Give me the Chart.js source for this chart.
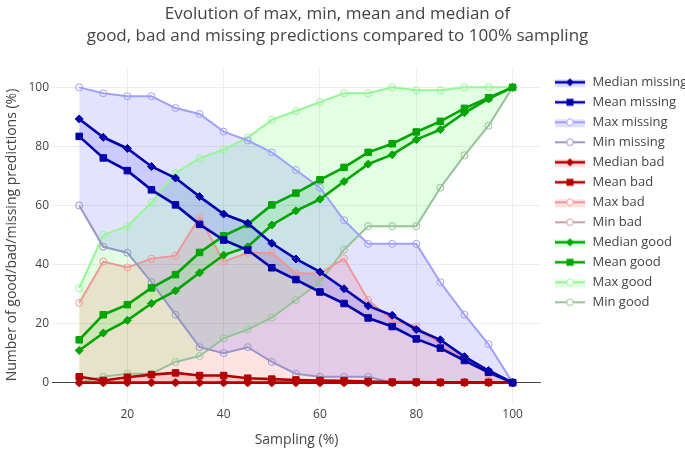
<!DOCTYPE html>
<html>
<head>
<meta charset="utf-8">
<script src="https://cdn.jsdelivr.net/npm/chart.js@4/dist/chart.umd.min.js"></script>
<style>
  html, body { margin: 0; padding: 0; background: #fff; }
  #wrap { width: 685px; height: 452px; position: relative; }
</style>
</head>
<body>
<div id="wrap"><canvas id="c"></canvas></div>
<script>
// ---- Data ----
const sampling = [10, 15, 20, 25, 30, 35, 40, 45, 50, 55, 60, 65, 70, 75, 80, 85, 90, 95, 100];

const medianMissing = [89.3, 83.1, 79.3, 73.2, 69.3, 63.0, 57.1, 54.0, 47.2, 41.9, 37.5, 31.8, 26.0, 22.8, 18.0, 14.5, 8.8, 4.1, 0];
const meanMissing   = [83.4, 76.1, 71.8, 65.3, 60.2, 53.6, 48.3, 44.9, 38.9, 34.9, 30.7, 26.8, 21.9, 19.0, 14.8, 11.7, 7.5, 3.5, 0];
const maxMissing    = [100, 98, 97, 97, 93, 91, 85, 82, 78, 72, 66, 55, 47, 47, 47, 34, 23, 13, 0];
const minMissing    = [60, 46, 44, 34, 23, 12, 10, 12, 7, 3, 2, 2, 2, 0, 0, 0, 0, 0, 0];

const medianBad = [0, 0, 0, 0, 0, 0, 0, 0, 0, 0, 0, 0, 0, 0, 0, 0, 0, 0, 0];
const meanBad   = [2.0, 0.7, 1.8, 2.7, 3.3, 2.4, 2.4, 1.5, 1.2, 0.9, 0.7, 0.6, 0.4, 0.2, 0.2, 0.1, 0.1, 0.1, 0];
const maxBad    = [27, 41, 39, 42, 43, 56, 41, 44, 44, 37, 37, 42, 28, 21, 19, 13, 8, 3, 0];
const minBad    = [0, 0, 0, 0, 0, 0, 0, 0, 0, 0, 0, 0, 0, 0, 0, 0, 0, 0, 0];

const medianGood = [10.9, 16.8, 21.1, 26.8, 31.1, 37.2, 43.2, 46.0, 53.4, 58.2, 62.1, 68.1, 74.0, 77.2, 82.3, 85.7, 91.4, 96.1, 100];
const meanGood   = [14.5, 23.0, 26.4, 32.1, 36.6, 44.1, 49.7, 53.6, 60.2, 64.2, 68.7, 72.9, 78.0, 80.9, 84.9, 88.5, 92.9, 96.5, 100];
const maxGood    = [32, 50, 53, 61, 71, 76, 79, 83, 89, 92, 95, 98, 98, 100, 99, 99, 100, 100, 100];
const minGood    = [0, 2, 3, 3, 7, 9, 15, 18, 22, 28, 34, 45, 53, 53, 53, 66, 77, 87, 100];

const yTicks = [0, 20, 40, 60, 80, 100];
const xTicks = [20, 40, 60, 80, 100];

const titleLines = ['Evolution of max, min, mean and median of', 'good, bad and missing predictions compared to 100% sampling'];
const xTitle = 'Sampling (%)';
const yTitle = 'Number of good/bad/missing predictions (%)';

// ---- Styles ----
const C = {
  missing: { dark: 'rgb(0,0,170)', max: 'rgb(160,160,250)', min: 'rgb(150,150,200)', fill: 'rgba(0,0,255,0.11)', swatch: 'rgba(0,0,255,0.12)' },
  bad:     { dark: 'rgb(180,0,0)', max: 'rgb(240,150,150)', min: 'rgb(200,160,160)', fill: 'rgba(255,0,0,0.11)', swatch: 'rgba(255,0,0,0.12)' },
  good:    { dark: 'rgb(0,165,0)', max: 'rgb(150,245,150)', min: 'rgb(150,195,150)', fill: 'rgba(0,255,0,0.11)', swatch: 'rgba(0,255,0,0.12)' }
};

function pts(arr) { return arr.map((v, i) => ({ x: sampling[i], y: v })); }

function makeIcon(color, lw, marker, swatch) {
  const cv = document.createElement('canvas');
  cv.width = 38; cv.height = 16;
  const g = cv.getContext('2d');
  const cy = 8, x0 = 7, x1 = 37, cx = 22;
  if (swatch) { g.fillStyle = swatch; g.fillRect(x0, cy - 3, x1 - x0, 8); }
  g.strokeStyle = color; g.lineWidth = lw;
  g.beginPath(); g.moveTo(x0, cy); g.lineTo(x1, cy); g.stroke();
  g.lineWidth = 1;
  if (marker === 'diamond') {
    g.fillStyle = color; g.beginPath();
    g.moveTo(cx, cy - 4); g.lineTo(cx + 4, cy); g.lineTo(cx, cy + 4); g.lineTo(cx - 4, cy); g.closePath(); g.fill();
  } else if (marker === 'square') {
    g.fillStyle = color; g.fillRect(cx - 3.5, cy - 3.5, 7, 7);
  } else {
    g.fillStyle = '#fff'; g.beginPath(); g.arc(cx, cy, 3.3, 0, Math.PI * 2); g.fill(); g.stroke();
  }
  return cv;
}

const datasets = [];
const legendIcons = [];
[['missing', medianMissing, meanMissing, maxMissing, minMissing],
 ['bad', medianBad, meanBad, maxBad, minBad],
 ['good', medianGood, meanGood, maxGood, minGood]].forEach(([name, med, mean, mx, mn]) => {
  const c = C[name];
  datasets.push({ label: 'Median ' + name, data: pts(med), borderColor: c.dark, backgroundColor: c.fill,
    borderWidth: 2.6, pointStyle: 'rectRot', pointRadius: 4, pointBorderWidth: 1,
    pointBackgroundColor: c.dark, pointBorderColor: c.dark, fill: false, order: 0 });
  legendIcons.push(makeIcon(c.dark, 2.6, 'diamond', c.swatch));
  datasets.push({ label: 'Mean ' + name, data: pts(mean), borderColor: c.dark, backgroundColor: c.fill,
    borderWidth: 2.6, pointStyle: 'rect', pointRadius: 4.6, pointBorderWidth: 1,
    pointBackgroundColor: c.dark, pointBorderColor: c.dark, fill: '-1', order: 0 });
  legendIcons.push(makeIcon(c.dark, 2.6, 'square', null));
  datasets.push({ label: 'Max ' + name, data: pts(mx), borderColor: c.max, backgroundColor: c.fill,
    borderWidth: 2, pointStyle: 'circle', pointRadius: 3.5, pointBorderWidth: 1,
    pointBackgroundColor: 'rgba(0,0,0,0)', pointBorderColor: c.max, fill: false, order: 1 });
  legendIcons.push(makeIcon(c.max, 2, 'circle', c.swatch));
  datasets.push({ label: 'Min ' + name, data: pts(mn), borderColor: c.min, backgroundColor: c.fill,
    borderWidth: 2, pointStyle: 'circle', pointRadius: 3.5, pointBorderWidth: 1,
    pointBackgroundColor: 'rgba(0,0,0,0)', pointBorderColor: c.min, fill: '-1', order: 1 });
  legendIcons.push(makeIcon(c.min, 2, 'circle', null));
});
datasets.forEach((d) => { d.tension = 0; });

Chart.defaults.font.family = "'Open Sans', 'Noto Sans', sans-serif";
Chart.defaults.color = '#444';

const gridColor = (ctx) => (ctx.tick && ctx.tick.value === 0 ? '#444' : '#eee');

new Chart(document.getElementById('c'), {
  type: 'line',
  data: { datasets },
  options: {
    responsive: true,
    maintainAspectRatio: false,
    animation: false,
    events: [],
    layout: { padding: { left: -10, right: 0, top: 0, bottom: 0 } },
    plugins: {
      filler: { drawTime: 'beforeDatasetsDraw' },
      title: {
        display: true, text: titleLines, color: '#444',
        font: { size: 17, weight: 'normal', lineHeight: '22px' },
        padding: { top: 3, bottom: 20 }
      },
      legend: {
        display: true, position: 'right', align: 'start', fullSize: false, maxWidth: 144,
        title: { display: true, text: '', padding: 0, font: { size: 1, lineHeight: 1.8 } },
        labels: {
          usePointStyle: true, pointStyleWidth: 38, padding: 7, color: '#444',
          font: { size: 13 },
          generateLabels: (chart) => chart.data.datasets.map((d, i) => ({
            text: d.label, datasetIndex: i, pointStyle: legendIcons[i], hidden: false,
            fontColor: '#444', lineWidth: 0, strokeStyle: 'rgba(0,0,0,0)', fillStyle: 'rgba(0,0,0,0)'
          }))
        }
      },
      tooltip: { enabled: false }
    },
    scales: {
      x: {
        type: 'linear', min: 4.35, max: 105.9,
        afterFit: (s) => { s.height = 49; },
        afterBuildTicks: (s) => { s.ticks = xTicks.map(v => ({ value: v })); },
        ticks: { font: { size: 12 }, color: '#444', padding: 4, maxRotation: 0 },
        grid: { color: '#eee', lineWidth: 1, drawTicks: false },
        border: { display: false },
        title: { display: true, text: xTitle, color: '#444', font: { size: 14 }, padding: { top: 4, bottom: 3.6 } }
      },
      y: {
        type: 'linear', min: -6.9, max: 106.9,
        afterFit: (s) => { s.width = 62; },
        afterBuildTicks: (s) => { s.ticks = yTicks.map(v => ({ value: v })); },
        ticks: { font: { size: 12 }, color: '#444', padding: 3 },
        grid: { color: gridColor, lineWidth: 1, drawTicks: false },
        border: { display: false },
        title: { display: true, text: yTitle, color: '#444', font: { size: 14 }, padding: { top: 13.6, bottom: 4 } }
      }
    }
  }
});
</script>
</body>
</html>
